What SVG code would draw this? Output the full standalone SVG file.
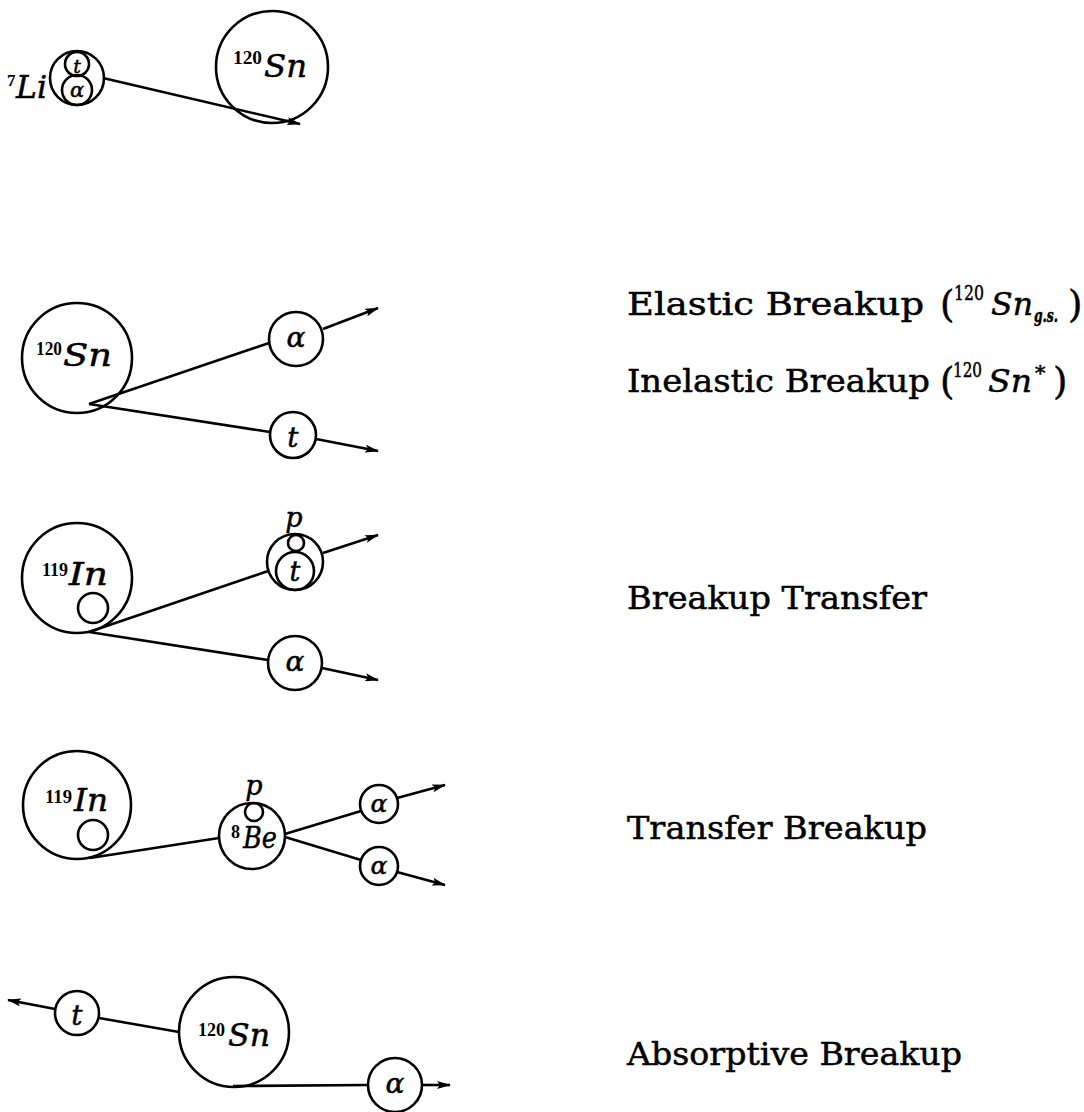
<svg xmlns="http://www.w3.org/2000/svg" width="1084" height="1112" viewBox="0 0 1084 1112">
  <style>
    .c{fill:none;stroke:#000;stroke-width:2.6}
    .ln{fill:none;stroke:#000;stroke-width:2.6}
    .ar{fill:none;stroke:#000;stroke-width:2.6;marker-end:url(#head)}
    .mi{font-family:"DejaVu Serif","Liberation Serif",serif;font-style:italic;fill:#000;stroke:#000;stroke-width:0.5}
    .sup{font-family:"Liberation Serif",serif;font-weight:bold;fill:#000}
    .lbl{font-family:"DejaVu Serif","Liberation Serif",serif;fill:#000;stroke:#000;stroke-width:0.5}
  </style>
  <defs>
    <marker id="head" markerUnits="userSpaceOnUse" markerWidth="14" markerHeight="8" refX="13" refY="4" orient="auto">
      <path d="M0,0 L14,4 L0,8 L3,4 z" fill="#000"/>
    </marker>
  </defs>
  <rect width="1084" height="1112" fill="#fff"/>

  <!-- connectors -->
  <g id="connectors">
    <!-- 7Li passing 120Sn -->
    <path class="ar" d="M103,78 L300,124"/>
    <!-- elastic / inelastic breakup -->
    <path class="ln" d="M89,404 L269,343"/>
    <path class="ar" d="M323,329 L378,308"/>
    <path class="ln" d="M89,404 L270,432"/>
    <path class="ar" d="M316,439 L378,451"/>
    <!-- breakup transfer -->
    <path class="ln" d="M89,632 L268,571"/>
    <path class="ar" d="M323,553 L378,535"/>
    <path class="ln" d="M89,632 L268,660"/>
    <path class="ar" d="M322,668 L378,680"/>
    <!-- transfer breakup -->
    <path class="ln" d="M90,858 L219,838"/>
    <path class="ln" d="M285,834 L361,811"/>
    <path class="ar" d="M397,798 L445,785"/>
    <path class="ln" d="M285,837 L361,860"/>
    <path class="ar" d="M397,872 L445,885"/>
    <!-- absorptive breakup -->
    <path class="ar" d="M55,1009 L8,1000"/>
    <path class="ln" d="M99,1018 L179,1032"/>
    <path class="ln" d="M233,1086 L368,1085"/>
    <path class="ar" d="M422,1085 L450,1085"/>
  </g>

  <!-- row 1: projectile and target -->
  <g id="li7">
    <circle class="c" cx="77" cy="78" r="27"/>
    <circle class="c" cx="77" cy="64" r="12"/>
    <circle class="c" cx="77" cy="90" r="15"/>
    <text class="mi" x="77" y="73" font-size="19" text-anchor="middle">t</text>
    <text class="mi" x="77" y="97" font-size="21" text-anchor="middle">α</text>
    <text class="sup" x="7" y="86" font-size="17">7</text>
    <text class="mi" x="16" y="98" font-size="31" textLength="31" lengthAdjust="spacingAndGlyphs">Li</text>
  </g>
  <g id="sn120-a">
    <circle class="c" cx="272" cy="67" r="56"/>
    <text class="sup" x="233" y="64" font-size="18" textLength="29" lengthAdjust="spacingAndGlyphs">120</text>
    <text class="mi" x="264" y="77" font-size="31" textLength="43" lengthAdjust="spacingAndGlyphs">Sn</text>
  </g>

  <!-- row 2: elastic / inelastic breakup -->
  <g id="sn120-b">
    <circle class="c" cx="77" cy="358" r="55"/>
    <text class="sup" x="36" y="355" font-size="18" textLength="26" lengthAdjust="spacingAndGlyphs">120</text>
    <text class="mi" x="63" y="366" font-size="31" textLength="49" lengthAdjust="spacingAndGlyphs">Sn</text>
  </g>
  <g id="alpha-b">
    <circle class="c" cx="296" cy="339" r="27"/>
    <text class="mi" x="296" y="347" font-size="28" text-anchor="middle">α</text>
  </g>
  <g id="triton-b">
    <circle class="c" cx="293" cy="435" r="23"/>
    <text class="mi" x="293" y="447" font-size="28" text-anchor="middle">t</text>
  </g>

  <!-- row 3: breakup transfer -->
  <g id="in119-c">
    <circle class="c" cx="77" cy="578" r="55"/>
    <circle class="c" cx="93" cy="608" r="15"/>
    <text class="sup" x="42" y="576" font-size="18" textLength="26" lengthAdjust="spacingAndGlyphs">119</text>
    <text class="mi" x="69" y="585" font-size="31" textLength="39" lengthAdjust="spacingAndGlyphs">In</text>
  </g>
  <g id="pt-c">
    <circle class="c" cx="295" cy="562" r="28"/>
    <circle class="c" cx="295" cy="571" r="19"/>
    <circle class="c" cx="296" cy="543" r="8"/>
    <text class="mi" x="295" y="581" font-size="27" text-anchor="middle">t</text>
    <text class="mi" x="294" y="527" font-size="27" text-anchor="middle">p</text>
  </g>
  <g id="alpha-c">
    <circle class="c" cx="295" cy="663" r="27"/>
    <text class="mi" x="295" y="671" font-size="28" text-anchor="middle">α</text>
  </g>

  <!-- row 4: transfer breakup -->
  <g id="in119-d">
    <circle class="c" cx="77" cy="805" r="54"/>
    <circle class="c" cx="93" cy="835" r="15"/>
    <text class="sup" x="45" y="803" font-size="18" textLength="27" lengthAdjust="spacingAndGlyphs">119</text>
    <text class="mi" x="74" y="811" font-size="31" textLength="34" lengthAdjust="spacingAndGlyphs">In</text>
  </g>
  <g id="be8-d">
    <circle class="c" cx="252" cy="836" r="33"/>
    <circle class="c" cx="254" cy="812" r="9"/>
    <text class="mi" x="254" y="795" font-size="27" text-anchor="middle">p</text>
    <text class="sup" x="231" y="838" font-size="18">8</text>
    <text class="mi" x="243" y="848" font-size="30" textLength="34" lengthAdjust="spacingAndGlyphs">Be</text>
  </g>
  <g id="alpha-d1">
    <circle class="c" cx="379" cy="804" r="19"/>
    <text class="mi" x="379" y="812" font-size="25" text-anchor="middle">α</text>
  </g>
  <g id="alpha-d2">
    <circle class="c" cx="379" cy="866" r="19"/>
    <text class="mi" x="379" y="874" font-size="25" text-anchor="middle">α</text>
  </g>

  <!-- row 5: absorptive breakup -->
  <g id="triton-e">
    <circle class="c" cx="77" cy="1013" r="22"/>
    <text class="mi" x="77" y="1025" font-size="28" text-anchor="middle">t</text>
  </g>
  <g id="sn120-e">
    <circle class="c" cx="234" cy="1032" r="55"/>
    <text class="sup" x="198" y="1036" font-size="18" textLength="27" lengthAdjust="spacingAndGlyphs">120</text>
    <text class="mi" x="228" y="1046" font-size="31" textLength="42" lengthAdjust="spacingAndGlyphs">Sn</text>
  </g>
  <g id="alpha-e">
    <circle class="c" cx="395" cy="1085" r="27"/>
    <text class="mi" x="395" y="1093" font-size="28" text-anchor="middle">α</text>
  </g>

  <!-- process labels -->
  <g id="label-elastic">
    <text class="lbl" x="627" y="315" font-size="32" textLength="297" lengthAdjust="spacingAndGlyphs">Elastic Breakup</text>
    <text class="lbl" x="940" y="317" font-size="37">(</text>
    <text class="lbl" x="954" y="300" font-size="20" textLength="30" lengthAdjust="spacingAndGlyphs">120</text>
    <text class="mi" x="991" y="315" font-size="32" textLength="42" lengthAdjust="spacingAndGlyphs">Sn</text>
    <text class="mi" x="1034" y="322" font-size="18" font-weight="bold" textLength="24" lengthAdjust="spacingAndGlyphs">g.s.</text>
    <text class="lbl" x="1068" y="317" font-size="37">)</text>
  </g>
  <g id="label-inelastic">
    <text class="lbl" x="627" y="392" font-size="32" textLength="303" lengthAdjust="spacingAndGlyphs">Inelastic Breakup</text>
    <text class="lbl" x="940" y="394" font-size="37">(</text>
    <text class="lbl" x="953" y="377" font-size="20" textLength="29" lengthAdjust="spacingAndGlyphs">120</text>
    <text class="mi" x="988" y="392" font-size="32" textLength="44" lengthAdjust="spacingAndGlyphs">Sn</text>
    <text class="lbl" x="1035" y="380" font-size="21">*</text>
    <text class="lbl" x="1053" y="394" font-size="37">)</text>
  </g>
  <g id="label-bt">
    <text class="lbl" x="627" y="609" font-size="32" textLength="300" lengthAdjust="spacingAndGlyphs">Breakup Transfer</text>
  </g>
  <g id="label-tb">
    <text class="lbl" x="627" y="839" font-size="32" textLength="300" lengthAdjust="spacingAndGlyphs">Transfer Breakup</text>
  </g>
  <g id="label-ab">
    <text class="lbl" x="627" y="1065" font-size="32" textLength="335" lengthAdjust="spacingAndGlyphs">Absorptive Breakup</text>
  </g>
</svg>
